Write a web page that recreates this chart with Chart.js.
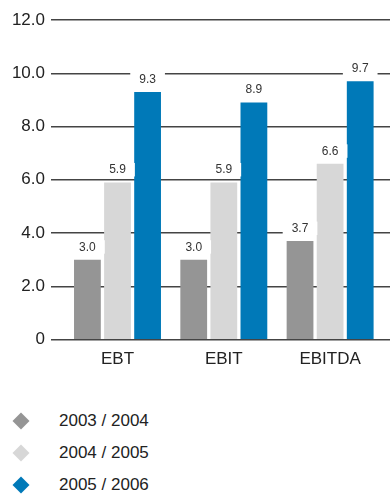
<!DOCTYPE html>
<html>
<head>
<meta charset="utf-8">
<script src="https://cdn.jsdelivr.net/npm/chart.js@4/dist/chart.umd.min.js"></script>
<style>
  html, body { margin: 0; padding: 0; background: #fff; }
  #wrap { position: relative; width: 390px; height: 495px; overflow: hidden; }
  #chart { position: absolute; left: 0; top: 0; }
  #legend { position: absolute; left: 0; top: 405px; margin: 0; padding: 0; list-style: none;
            font-family: "Liberation Sans", Arial, sans-serif; font-size: 17px; color: #222; }
  #legend li { position: relative; height: 32px; line-height: 32px; padding-left: 59px; }
  #legend .mark { position: absolute; left: 15px; top: 10px; width: 12px; height: 12px; transform: rotate(45deg); }
</style>
</head>
<body>
<div id="wrap">
  <canvas id="chart" width="390" height="380"></canvas>
  <ul id="legend"></ul>
</div>
<script>
// Key figures per period
const categories = ['EBT', 'EBIT', 'EBITDA'];
const periods = ['2003 / 2004', '2004 / 2005', '2005 / 2006'];
const values2004 = [3.0, 3.0, 3.7];
const values2005 = [5.9, 5.9, 6.6];
const values2006 = [9.3, 8.9, 9.7];
const yTickLabels = ['0', '2.0', '4.0', '6.0', '8.0', '10.0', '12.0'];
const colors = ['#959595', '#d7d7d7', '#0079b8'];

const seriesList = [values2004, values2005, values2006];
const FONT = '"Liberation Sans", Arial, sans-serif';

// Categories sit at 1, 2, 3 on a numeric index axis
const datasets = seriesList.map((vals, s) => ({
  label: periods[s],
  data: vals.map((v, i) => ({ x: i + 1, y: v })),
  backgroundColor: colors[s],
  borderWidth: 0,
  categoryPercentage: 0.849,
  barPercentage: 0.89
}));

// Value labels on white plates above each bar
const valueLabels = {
  id: 'valueLabels',
  afterDatasetsDraw(chart) {
    const ctx = chart.ctx;
    ctx.save();
    ctx.font = '12px ' + FONT;
    ctx.textAlign = 'center';
    ctx.textBaseline = 'middle';
    chart.data.datasets.forEach((ds, s) => {
      const meta = chart.getDatasetMeta(s);
      meta.data.forEach((bar, i) => {
        const txt = seriesList[s][i].toFixed(1);
        const w = ctx.measureText(txt).width + 18;
        const cy = bar.y - 12.5;
        ctx.fillStyle = '#fff';
        ctx.fillRect(bar.x - w / 2, cy - 7, w, 13.5);
        ctx.fillStyle = '#333';
        ctx.fillText(txt, bar.x, cy);
      });
    });
    ctx.restore();
  }
};

new Chart(document.getElementById('chart'), {
  type: 'bar',
  data: { datasets },
  options: {
    responsive: false,
    animation: false,
    layout: { padding: { top: 20, right: 0, left: 0, bottom: 0 } },
    plugins: { legend: { display: false }, tooltip: { enabled: false } },
    scales: {
      x: {
        type: 'linear',
        offset: false,
        min: 0.3745,
        max: 3.5632,
        afterBuildTicks(scale) {
          scale.ticks = categories.map((c, i) => ({ value: i + 1 }));
        },
        ticks: {
          callback: (v) => categories[v - 1],
          color: '#222',
          font: { family: FONT, size: 17 },
          padding: 10,
          maxRotation: 0,
          autoSkip: false
        },
        grid: { display: false, drawTicks: false, offset: false },
        border: { display: false }
      },
      y: {
        min: 0,
        max: 12,
        ticks: {
          stepSize: 2,
          callback: (v, i) => yTickLabels[i],
          color: '#222',
          font: { family: FONT, size: 17 },
          padding: 6
        },
        afterFit(scale) { scale.width = 51; },
        grid: { color: '#444', lineWidth: 1.4, drawTicks: false },
        border: { display: false }
      }
    }
  },
  plugins: [valueLabels]
});

// Legend list
const legend = document.getElementById('legend');
periods.forEach((p, s) => {
  const li = document.createElement('li');
  const mark = document.createElement('span');
  mark.className = 'mark';
  mark.style.background = colors[s];
  li.appendChild(mark);
  li.appendChild(document.createTextNode(p));
  legend.appendChild(li);
});
</script>
</body>
</html>
